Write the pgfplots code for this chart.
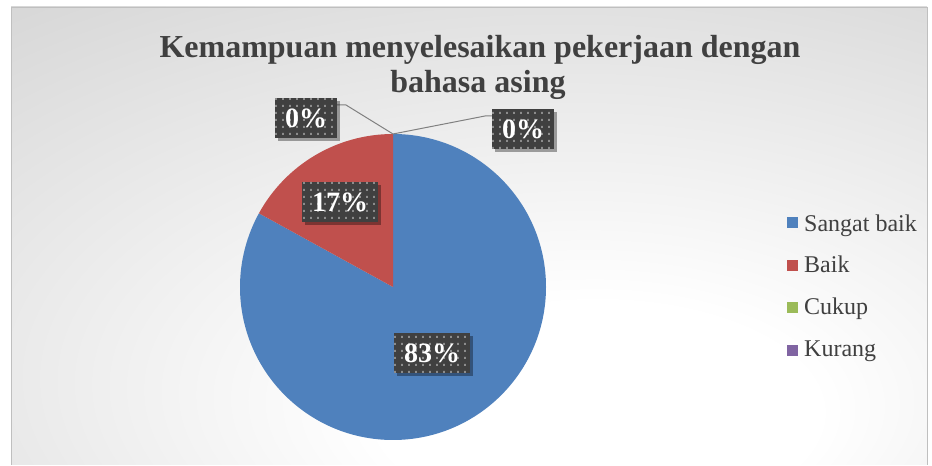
\documentclass[border=0pt]{standalone}
\usepackage{pgfplots}
\pgfplotsset{compat=1.18}
\usepackage{fontspec}
\setmainfont{Liberation Serif}
\usetikzlibrary{shadows,patterns.meta}
\definecolor{cBlue}{HTML}{4F81BD}
\definecolor{cRed}{HTML}{C0504D}
\definecolor{cGreen}{HTML}{9BBB59}
\definecolor{cPurple}{HTML}{8064A2}
\definecolor{txt}{HTML}{404040}
\definecolor{lbl}{HTML}{404040}
\definecolor{bgedge}{HTML}{C6C6C6}
\pgfdeclareradialshading{bgshade}{\pgfpoint{8bp}{-22bp}}{color(0bp)=(white); color(12bp)=(white); color(62bp)=(bgedge); color(100bp)=(bgedge)}
\tikzdeclarepattern{name=sqdots, parameters={}, bounding box={(0,0) and (7pt,7pt)}, tile size={(7pt,7pt)}, code={\fill (2.5pt,2.5pt) rectangle (4.5pt,4.5pt);}}
\tikzset{lab/.style={fill=lbl, text=white, font=\bfseries\fontsize{28}{28}\selectfont, inner xsep=10pt, inner ysep=9.5pt, text height=20pt, text depth=1pt, drop shadow={shadow xshift=3pt, shadow yshift=-3pt, fill=black, opacity=0.35},
  postaction={pattern={sqdots}, pattern color=white!40!lbl}},
  legtext/.style={anchor=base west, text=txt, font=\fontsize{24}{24}\selectfont, inner sep=0pt}}
\begin{document}
\begin{tikzpicture}
\begin{axis}[hide axis, scale only axis, width=932pt, height=465pt,
  xmin=0, xmax=932, ymin=0, ymax=465, clip=false]
% background
\path (axis cs:0,0) rectangle (axis cs:932,465);
\shade[shading=bgshade] (axis cs:11,0) rectangle (axis cs:927,458);
\draw[black!25, line width=0.8pt] (axis cs:11,0) -- (axis cs:11,458) -- (axis cs:927,458) -- (axis cs:927,0);
% title
\node[font=\bfseries\fontsize{32}{32}\selectfont, text=txt, anchor=base, inner sep=0pt] at (axis cs:480,407) {Kemampuan menyelesaikan pekerjaan dengan};
\node[font=\bfseries\fontsize{32}{32}\selectfont, text=txt, anchor=base, inner sep=0pt] at (axis cs:478,372) {bahasa asing};
% pie: values in percent
\gdef\acc{90}
\foreach \v/\col in {83/cBlue,17/cRed,0/cGreen,0/cPurple}{
  \pgfmathsetmacro{\ea}{\acc-3.6*\v}
  \ifdim \v pt>0pt
  \edef\temp{\noexpand\fill[\col] (axis cs:393,178) -- ++(\acc:153pt) arc[start angle=\acc, end angle=\ea, radius=153pt] -- cycle;}
  \temp
  \fi
  \xdef\acc{\ea}
}
% leader lines
\draw[black!50, line width=1pt] (axis cs:393,331) -- (axis cs:346,360) -- (axis cs:335,360);
\draw[black!50, line width=1pt] (axis cs:393,331) -- (axis cs:485,349) -- (axis cs:495,349);
% labels
\node[lab] at (axis cs:306,346.5) {0\%};
\node[lab] at (axis cs:523,336) {0\%};
\node[lab] at (axis cs:340,263) {17\%};
\node[lab] at (axis cs:432,112) {83\%};
% legend
\foreach \nm/\col/\yy/\bb in {Sangat baik/cBlue/242/233,Baik/cRed/199/192,Cukup/cGreen/157/150,Kurang/cPurple/114/108}{
  \edef\temp{\noexpand\fill[\col] (axis cs:787,\yy-5.5) rectangle (axis cs:798,\yy+5.5);
  \noexpand\node[legtext] at (axis cs:804,\bb) {\nm};}
  \temp
}
\end{axis}
\end{tikzpicture}
\end{document}
